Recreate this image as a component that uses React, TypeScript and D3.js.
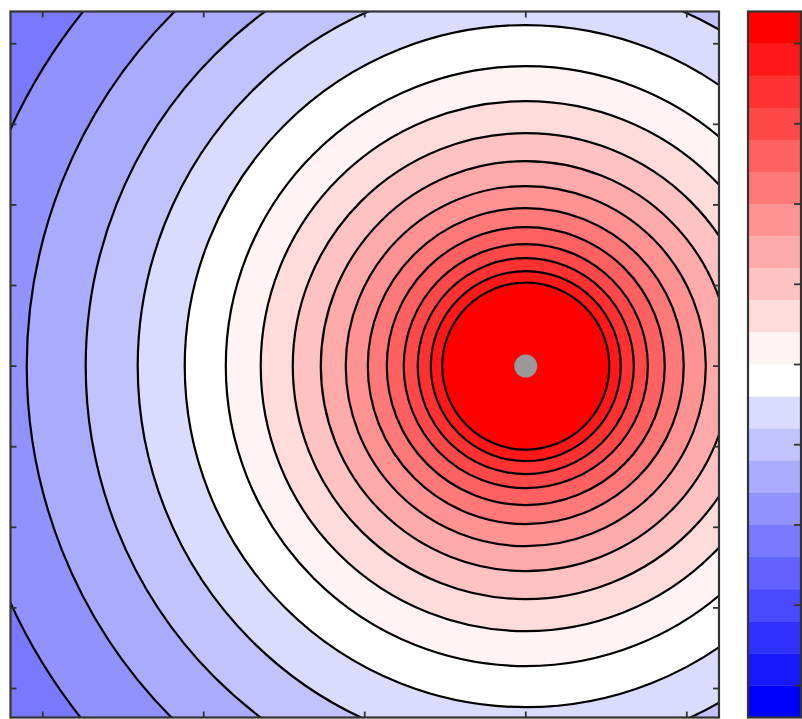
import React from "react";
import * as d3 from "d3";

// Axis extents (data units) and tick positions
const X_DOMAIN: [number, number] = [-2.2, 2.2];
const Y_DOMAIN: [number, number] = [-2.18, 2.2];
const X_TICKS = [-2, -1, 0, 1, 2];
const Y_TICKS = [-2, -1.5, -1, -0.5, 0, 0.5, 1, 1.5, 2];

// Location of the point source
const SOURCE_X = 1;
const SOURCE_Y = 0;

// Contour levels and the radius (data units) at which each one lies
const CONTOUR_LEVELS = [1.0, 0.9, 0.8, 0.7, 0.6, 0.5, 0.4, 0.3, 0.2, 0.1, 0.0, -0.1, -0.2, -0.3, -0.4, -0.5];
const CONTOUR_RADII = [0.519, 0.59, 0.671, 0.758, 0.863, 0.981, 1.118, 1.273, 1.447, 1.646, 1.863, 2.118, 2.41, 2.733, 3.099, 3.522];

// Filled-band boundaries shown on the colorbar (top to bottom)
const BAND_EDGES = [1.1, 1.0, 0.9, 0.8, 0.7, 0.6, 0.5, 0.4, 0.3, 0.2, 0.1, 0.0, -0.1, -0.2, -0.3, -0.4, -0.5, -0.6, -0.7, -0.8, -0.9, -1.0, -1.1];
const COLORBAR_TICKS = [1, 0.75, 0.5, 0.25, 0, -0.25, -0.5, -0.75, -1];

// Blue-white-red palette, one colour per band (top band first)
const BAND_COLORS = [
  "#ff0000", "#ff1818", "#ff3131", "#ff4949", "#ff6161", "#ff7979",
  "#ff9292", "#ffaaaa", "#ffc2c2", "#ffdbdb", "#fff3f3", "#ffffff",
  "#dbdbff", "#c2c2ff", "#aaaaff", "#9292ff", "#7979ff", "#6161ff",
  "#4949ff", "#3131ff", "#1818ff", "#0000ff",
];

const W = 802;
const H = 719;
const PLOT = { left: 10.5, right: 719, top: 11.5, bottom: 717.5 };
const CBAR = { left: 748, right: 801, top: 11.5, bottom: 717.5 };
const FRAME = "#333333";
const TICK = 6;

const sameLevel = (a: number, b: number) => Math.abs(a - b) < 1e-9;
// index of the band whose lower edge is the given level
const bandAbove = (level: number) =>
  BAND_EDGES.findIndex((e, i) => i > 0 && sameLevel(e, level)) - 1;
// index of the band whose upper edge is the given level
const bandBelow = (level: number) => BAND_EDGES.findIndex((e) => sameLevel(e, level));

export default function App() {
  const x = d3.scaleLinear().domain(X_DOMAIN).range([PLOT.left, PLOT.right]);
  const y = d3.scaleLinear().domain(Y_DOMAIN).range([PLOT.bottom, PLOT.top]);
  const cy = d3
    .scaleLinear()
    .domain([BAND_EDGES[BAND_EDGES.length - 1], BAND_EDGES[0]])
    .range([CBAR.bottom, CBAR.top]);

  const px = (r: number) => x(r) - x(0);
  const sx = x(SOURCE_X);
  const sy = y(SOURCE_Y);

  // rings drawn outermost first so inner fills sit on top
  const rings = CONTOUR_LEVELS.map((level, i) => ({
    level,
    r: px(CONTOUR_RADII[i]),
    fill: BAND_COLORS[bandAbove(level)],
  })).reverse();
  const outerFill = BAND_COLORS[bandBelow(CONTOUR_LEVELS[CONTOUR_LEVELS.length - 1])];

  const plotW = PLOT.right - PLOT.left;
  const plotH = PLOT.bottom - PLOT.top;

  return (
    <svg
      width={W}
      height={H}
      style={{ position: "absolute", left: 0, top: 0, background: "#ffffff" }}
    >
      <defs>
        <clipPath id="plot-area">
          <rect x={PLOT.left} y={PLOT.top} width={plotW} height={plotH} />
        </clipPath>
      </defs>

      <g clipPath="url(#plot-area)">
        <rect x={PLOT.left} y={PLOT.top} width={plotW} height={plotH} fill={outerFill} />
        {rings.map((d) => (
          <circle key={`f${d.level}`} cx={sx} cy={sy} r={d.r} fill={d.fill} />
        ))}
        {rings.map((d) => (
          <circle
            key={`l${d.level}`}
            cx={sx}
            cy={sy}
            r={d.r}
            fill="none"
            stroke="#000"
            strokeWidth={2.2}
          />
        ))}
        <circle cx={sx} cy={sy} r={11.5} fill="#999999" />
      </g>

      {/* axes frame with inward ticks */}
      <rect
        x={PLOT.left}
        y={PLOT.top}
        width={plotW}
        height={plotH}
        fill="none"
        stroke={FRAME}
        strokeWidth={2.2}
      />
      {X_TICKS.map((t) => (
        <g key={`xt${t}`} stroke={FRAME} strokeWidth={1.8}>
          <line x1={x(t)} x2={x(t)} y1={PLOT.top} y2={PLOT.top + TICK} />
          <line x1={x(t)} x2={x(t)} y1={PLOT.bottom} y2={PLOT.bottom - TICK} />
        </g>
      ))}
      {Y_TICKS.map((t) => (
        <g key={`yt${t}`} stroke={FRAME} strokeWidth={1.8}>
          <line x1={PLOT.left} x2={PLOT.left + TICK} y1={y(t)} y2={y(t)} />
          <line x1={PLOT.right} x2={PLOT.right - TICK} y1={y(t)} y2={y(t)} />
        </g>
      ))}

      {/* colorbar */}
      {BAND_COLORS.map((c, i) => (
        <rect
          key={`cb${i}`}
          x={CBAR.left}
          y={cy(BAND_EDGES[i])}
          width={CBAR.right - CBAR.left}
          height={cy(BAND_EDGES[i + 1]) - cy(BAND_EDGES[i]) + 0.3}
          fill={c}
        />
      ))}
      <rect
        x={CBAR.left}
        y={CBAR.top}
        width={CBAR.right - CBAR.left}
        height={CBAR.bottom - CBAR.top}
        fill="none"
        stroke={FRAME}
        strokeWidth={2.2}
      />
      {COLORBAR_TICKS.map((t) => (
        <line
          key={`ct${t}`}
          x1={CBAR.right}
          x2={CBAR.right - 7}
          y1={cy(t)}
          y2={cy(t)}
          stroke={FRAME}
          strokeWidth={1.8}
        />
      ))}
    </svg>
  );
}
